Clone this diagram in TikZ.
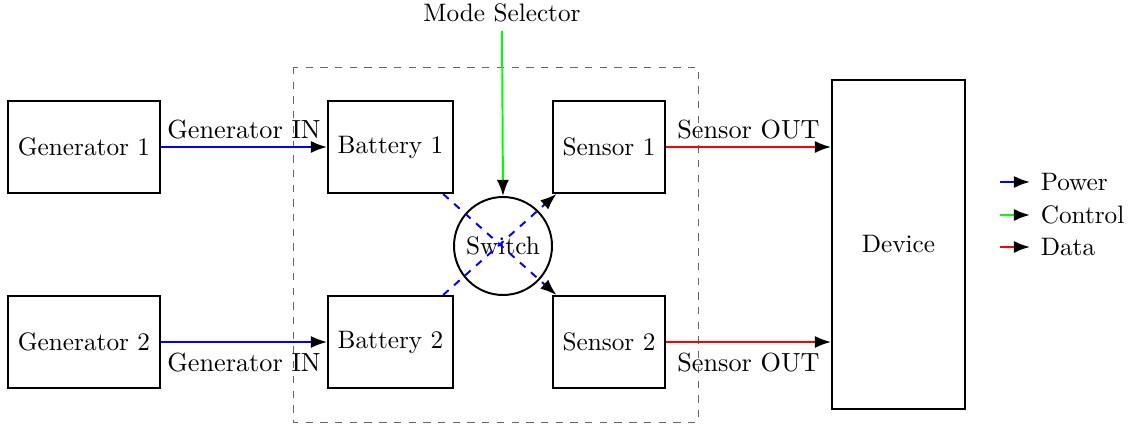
\documentclass[tikz,border=0pt]{standalone}
\usetikzlibrary{arrows.meta}
\begin{document}
\begin{tikzpicture}[x=0.408pt,y=-0.408pt,
  every node/.style={font=\fontsize{10.3}{12.4}\selectfont},
  blk/.style={draw,thick,minimum width=152*0.408pt,minimum height=92*0.408pt,inner sep=0pt},
  bat/.style={draw,thick,minimum width=125*0.408pt,minimum height=92*0.408pt,inner sep=0pt},
  sen/.style={draw,thick,minimum width=112*0.408pt,minimum height=92*0.408pt,inner sep=0pt},
  pw/.style={draw=blue,thick,-{Latex[black]}},
  ctl/.style={draw=green,thick,-{Latex[black]}},
  dat/.style={draw=red,thick,-{Latex[black]}},
  lbl/.style={inner sep=0pt,font=\fontsize{10.7}{12.8}\selectfont}]
\useasboundingbox (0,0) rectangle (1130,426);
\draw[dashed,gray!80!black] (293,67) rectangle (698,422);
\node[blk] (g1) at (84,147) {Generator 1};
\node[blk] (g2) at (84,342) {Generator 2};
\node[bat] (b1) at (390.5,147) {Battery 1};
\node[bat] (b2) at (390.5,342) {Battery 2};
\node[sen] (s1) at (609,147) {Sensor 1};
\node[sen] (s2) at (609,342) {Sensor 2};
\node[draw,thick,circle,minimum size=98*0.408pt,inner sep=0pt] (sw) at (503,246) {Switch};
\node[draw,thick,minimum width=133*0.408pt,minimum height=329*0.408pt,inner sep=0pt] (dev) at (898.5,244.5) {Device};
\node (mode) at (502,13) {Mode Selector};
\draw[pw] (g1) -- node[above,lbl,yshift=3pt] {Generator IN} (b1);
\draw[pw] (g2) -- node[below,lbl,yshift=-4pt] {Generator IN} (b2);
\draw[dat] (s1) -- node[above,lbl,yshift=3pt] {Sensor OUT} (dev.west |- s1);
\draw[dat] (s2) -- node[below,lbl,yshift=-4pt] {Sensor OUT} (dev.west |- s2);
\draw[ctl] (mode.south) -- (sw.north);
\draw[pw,dashed] (b1) -- (s2);
\draw[pw,dashed] (b2) -- (s1);
% legend
\coordinate (l1) at (1000,182);
\coordinate (l1e) at (1030,182);
\coordinate (l2) at (1000,215);
\coordinate (l2e) at (1030,215);
\coordinate (l3) at (1000,247);
\coordinate (l3e) at (1030,247);
\draw[pw] (l1) -- (l1e) node[right,inner sep=4pt] (t1) {Power};
\draw[ctl] (l2) -- (l2e) node[right,inner sep=4pt] (t2) {Control};
\draw[dat] (l3) -- (l3e) node[right,inner sep=4pt] (t3) {Data};
\end{tikzpicture}
\end{document}
